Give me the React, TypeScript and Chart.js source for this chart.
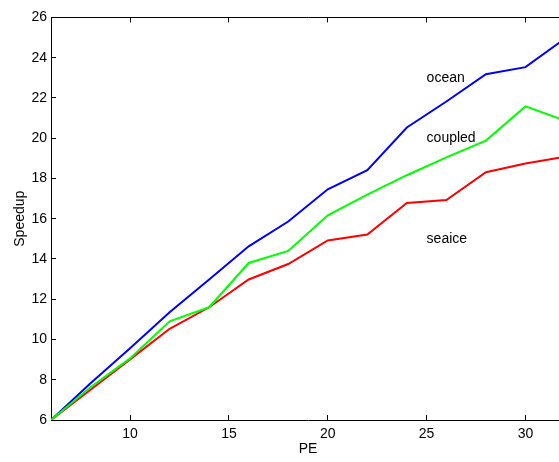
import React, { useEffect, useRef } from 'react';
import { Chart, registerables } from 'chart.js';

Chart.register(...registerables);

const pe = [6, 8, 10, 12, 14, 16, 18, 20, 22, 24, 26, 28, 30, 32];
const ocean = [6, 7.83, 9.56, 11.35, 12.98, 14.63, 15.86, 17.46, 18.41, 20.53, 21.82, 23.18, 23.53, 24.95];
const coupled = [6, 7.63, 9.06, 10.9, 11.6, 13.8, 14.4, 16.17, 17.2, 18.16, 19.05, 19.88, 21.58, 20.87];
const seaice = [6, 7.5, 9.01, 10.53, 11.6, 12.98, 13.75, 14.92, 15.21, 16.78, 16.93, 18.31, 18.74, 19.08];

const xTicks = [10, 15, 20, 25, 30];
const yTicks = [6, 8, 10, 12, 14, 16, 18, 20, 22, 24, 26];

const seriesNames = ['ocean', 'coupled', 'seaice'];
const nameX = 25;
const nameY = [23, 20, 15];

const FONT = "'Liberation Sans', Arial, Helvetica, sans-serif";

export default function App() {
  const ref = useRef<HTMLCanvasElement | null>(null);

  useEffect(() => {
    if (!ref.current) return;
    const labelPlugin = {
      id: 'seriesNames',
      afterDatasetsDraw(chart: any) {
        const { ctx, scales } = chart;
        ctx.save();
        ctx.fillStyle = '#000';
        ctx.font = `14px ${FONT}`;
        ctx.textAlign = 'left';
        ctx.textBaseline = 'middle';
        seriesNames.forEach((n, i) => {
          ctx.fillText(n, scales.x.getPixelForValue(nameX), scales.y.getPixelForValue(nameY[i]));
        });
        ctx.restore();
      },
    };

    const chart = new Chart(ref.current, {
      type: 'line',
      data: {
        datasets: [
          { label: 'coupled', data: pe.map((x, i) => ({ x, y: coupled[i] })), borderColor: '#00ff00' },
          { label: 'seaice', data: pe.map((x, i) => ({ x, y: seaice[i] })), borderColor: '#ff0000' },
          { label: 'ocean', data: pe.map((x, i) => ({ x, y: ocean[i] })), borderColor: '#0000ff' },
        ].map((d) => ({ ...d, borderWidth: 2, pointRadius: 0, tension: 0, fill: false })),
      },
      options: {
        responsive: false,
        animation: false,
        devicePixelRatio: 1,
        layout: { padding: { left: 0, right: 35, top: 0, bottom: 0 } },
        plugins: { legend: { display: false }, tooltip: { enabled: false } },
        scales: {
          x: {
            type: 'linear',
            position: 'bottom',
            min: 6,
            max: 32,
            afterBuildTicks: (s: any) => { s.ticks = xTicks.map((v) => ({ value: v })); },
            afterFit: (s: any) => { s.height = 42; },
            grid: { drawOnChartArea: false, drawTicks: true, tickLength: -5, color: '#000', lineWidth: 1 },
            border: { display: true, color: '#000', width: 1 },
            ticks: { color: '#000', padding: 11, font: { family: FONT, size: 14 }, maxRotation: 0 },
            title: { display: true, text: 'PE', color: '#000', font: { family: FONT, size: 14 }, padding: { top: 0, bottom: 4 } },
          },
          x2: {
            type: 'linear',
            position: 'top',
            min: 6,
            max: 32,
            afterBuildTicks: (s: any) => { s.ticks = xTicks.map((v) => ({ value: v })); },
            afterFit: (s: any) => { s.height = 15; },
            grid: { drawOnChartArea: false, drawTicks: true, tickLength: -5, color: '#000', lineWidth: 1 },
            border: { display: true, color: '#000', width: 1 },
            ticks: { display: false },
          },
          y: {
            type: 'linear',
            position: 'left',
            min: 6,
            max: 26,
            afterBuildTicks: (s: any) => { s.ticks = yTicks.map((v) => ({ value: v })); },
            afterFit: (s: any) => { s.width = 51; },
            grid: { drawOnChartArea: false, drawTicks: true, tickLength: -5, color: '#000', lineWidth: 1 },
            border: { display: true, color: '#000', width: 1 },
            ticks: { color: '#000', padding: 9, font: { family: FONT, size: 14 } },
            title: { display: true, text: 'Speedup', color: '#000', font: { family: FONT, size: 14 }, padding: { top: 12, bottom: 0 } },
          },
        },
      },
      plugins: [labelPlugin],
    });
    return () => chart.destroy();
  }, []);

  return (
    <div style={{ position: 'absolute', left: 0, top: 0, width: 559, height: 462, overflow: 'hidden', background: '#fff' }}>
      <canvas ref={ref} width={600} height={462} style={{ display: 'block', width: 600, height: 462 }} />
    </div>
  );
}
